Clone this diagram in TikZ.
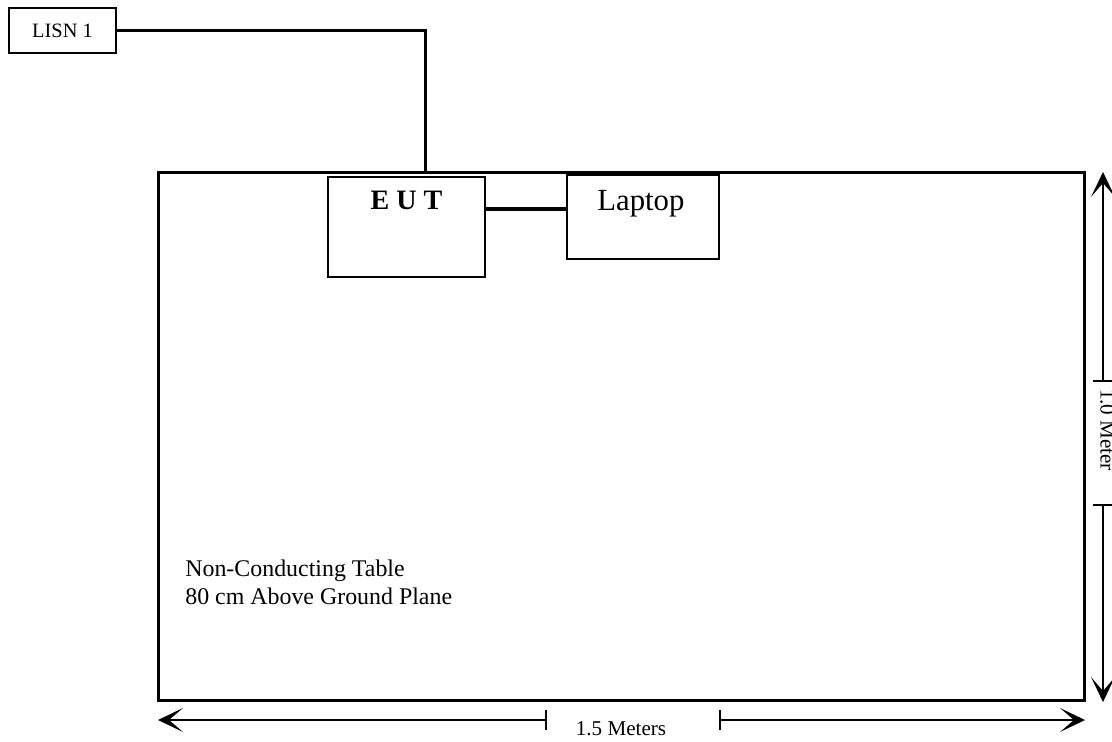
\documentclass[tikz,border=0pt]{standalone}
\usepackage{fontspec}
\setmainfont{Liberation Serif}
\usetikzlibrary{positioning,arrows.meta,calc}

\begin{document}
\begin{tikzpicture}[
        x=0.02cm, y=-0.02cm,
        every node/.style={font=\fontsize{12pt}{14pt}\selectfont},
        lisnbox/.style={draw, line width=1.1pt, minimum width=2.14cm, minimum height=0.9cm, inner sep=0pt, font=\fontsize{11.6pt}{14pt}\selectfont},
        tablebox/.style={draw, line width=1.7pt, minimum width=18.54cm, minimum height=10.58cm, inner sep=0pt},
        devbox/.style={draw, line width=1.1pt, inner sep=0pt},
        cable/.style={line width=1.8pt},
        dim/.style={line width=0.7pt},
        dimarrow/.style={dim, -{Stealth[length=5mm, width=4.8mm, inset=2.8mm]}}
    ]
        \useasboundingbox (0,0) rectangle (1112,741);

        % Table, LISN and the two devices
        \node[tablebox] (table) at (621.5,436.5) {};
        \node[lisnbox] (lisn) at (62.5,30.5) {LISN 1};
        \node[devbox, minimum width=3.14cm, minimum height=2.0cm] (eut) at (406.5,227) {};
        \node[devbox, minimum width=3.04cm, minimum height=1.68cm, right=1.6cm of eut, yshift=0.2cm] (laptop) {};

        % Texts inside the boxes
        \node[font=\fontsize{16pt}{18pt}\selectfont\bfseries, inner sep=0pt, anchor=north] (eutlbl) at ([yshift=-0.3cm]eut.north) {E U T};
        \node[font=\fontsize{17.5pt}{20pt}\selectfont, inner sep=0pt, anchor=north] (laptoplbl) at ([xshift=-0.04cm, yshift=-0.32cm]laptop.north) {Laptop};
        \node[font=\fontsize{13.6pt}{15.9pt}\selectfont, align=left, inner sep=0pt, anchor=north west] (tablelbl) at (185,560) {Non-Conducting Table\\80 cm Above Ground Plane};

        % Cables
        \coordinate (feed) at ([xshift=5.38cm]table.north west);
        \draw[cable] (lisn.east) -| (feed);
        \draw[cable] ([yshift=0.36cm]eut.east) -- ([yshift=0.36cm]eut.east -| laptop.west);

        % Width dimension
        \coordinate (wl) at (158,720);
        \coordinate (wa) at (546,720);
        \coordinate (wb) at (720,720);
        \coordinate (wr) at (1085,720);
        \draw[dimarrow] (wa) -- (wl);
        \draw[dimarrow] (wb) -- (wr);
        \draw[dim] ([yshift=0.2cm]wa) -- ([yshift=-0.2cm]wa);
        \draw[dim] ([yshift=0.2cm]wb) -- ([yshift=-0.2cm]wb);
        \node (wlbl) at (621,729) {1.5 Meters};

        % Depth dimension
        \coordinate (dt) at (1103,172);
        \coordinate (da) at (1103,381);
        \coordinate (db) at (1103,505);
        \coordinate (dbot) at (1103,702);
        \draw[dimarrow] (da) -- (dt);
        \draw[dimarrow] (db) -- (dbot);
        \draw[dim] ([xshift=-0.2cm]da) -- ([xshift=0.2cm]da);
        \draw[dim] ([xshift=-0.2cm]db) -- ([xshift=0.2cm]db);
        \node[rotate=-90, anchor=south, inner sep=0pt] (dlbl) at (1100,430) {1.0 Meter};

    \end{tikzpicture}
\end{document}
